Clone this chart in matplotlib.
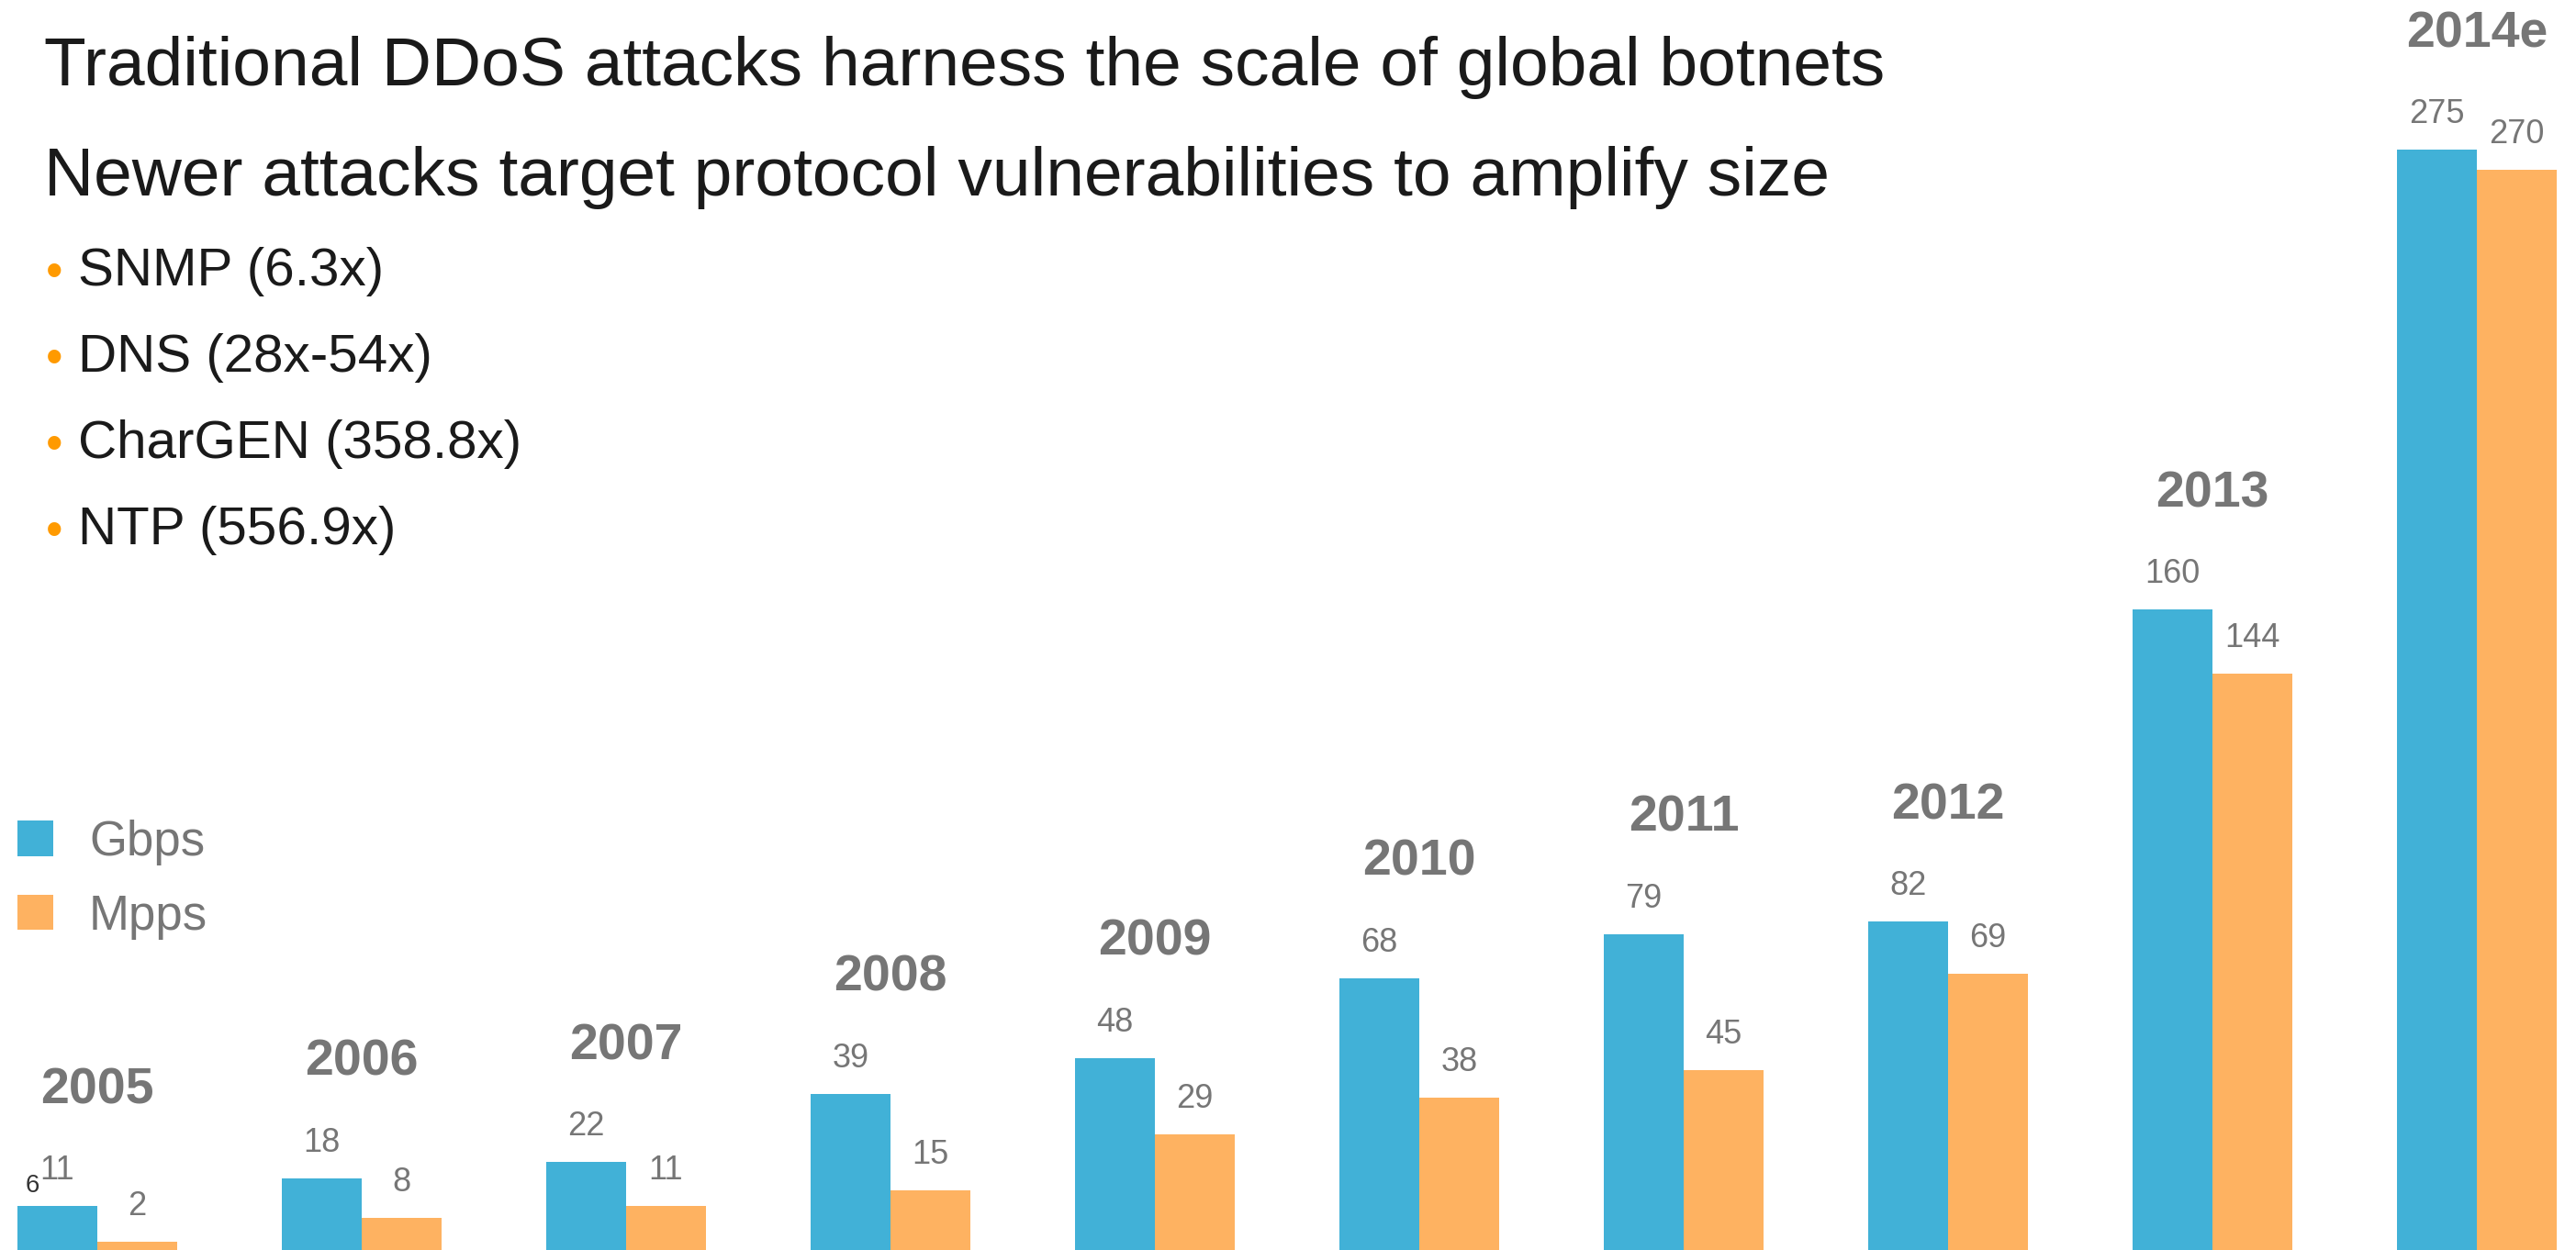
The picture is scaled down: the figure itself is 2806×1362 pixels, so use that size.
import matplotlib.pyplot as plt
import numpy as np

years = ["2005", "2006", "2007", "2008", "2009", "2010", "2011", "2012", "2013", "2014e"]
gbps = [11, 18, 22, 39, 48, 68, 79, 82, 160, 275]
mpps = [2, 8, 11, 15, 29, 38, 45, 69, 144, 270]

headline = "Traditional DDoS attacks harness the scale of global botnets"
subhead = "Newer attacks target protocol vulnerabilities to amplify size"
bullets = ["SNMP (6.3x)", "DNS (28x-54x)", "CharGEN (358.8x)", "NTP (556.9x)"]

BLUE = "#41B1D7"
ORANGE = "#FEB261"
GREY = "#767676"
INK = "#1A1A1A"

plt.rcParams["font.family"] = ["Liberation Sans", "DejaVu Sans"]

W, H = 2806, 1362
fig = plt.figure(figsize=(W / 100, H / 100), dpi=100)
ax = fig.add_axes([0, 0, 1, 1])

# one group per year, bars touch each other inside a group
x = np.arange(len(years))
w = 0.302
b1 = ax.bar(x - w / 2, gbps, w, color=BLUE, label="Gbps")
b2 = ax.bar(x + w / 2, mpps, w, color=ORANGE, label="Mpps")

ax.set_xlim(-0.368, 9.375)
ax.set_ylim(0, H / 4.36)
ax.axis("off")

for xi, g, m, yr in zip(x, gbps, mpps, years):
    ax.annotate(str(g), (xi - w / 2, g), xytext=(0, 29), textcoords="offset pixels",
                ha="center", va="baseline", fontsize=26, color=GREY)
    ax.annotate(str(m), (xi + w / 2, m), xytext=(0, 29), textcoords="offset pixels",
                ha="center", va="baseline", fontsize=26, color=GREY)
    ax.annotate(yr, (xi, g), xytext=(0, 112), textcoords="offset pixels",
                ha="center", va="baseline", fontsize=40, fontweight="bold", color=GREY)

# small stray label next to the first bar
ax.annotate("6", (x[0] - w / 2, gbps[0]), xytext=(-27, 15), textcoords="offset pixels",
            ha="center", va="baseline", fontsize=20, color="#333333")

# headline text block
fig.text(48 / W, 1 - 93 / H, headline, fontsize=54, color=INK, va="baseline")
fig.text(48 / W, 1 - 213 / H, subhead, fontsize=54, color=INK, va="baseline")
for i, line in enumerate(bullets):
    yb = 311 + i * 94
    fig.text(59 / W, 1 - (yb - 12) / H, "\u2022", fontsize=38, color="#FF9A00",
             ha="center", va="center")
    fig.text(85 / W, 1 - yb / H, line, fontsize=42, color=INK, va="baseline")

leg = ax.legend(handles=[b1, b2], loc="upper left", bbox_to_anchor=(19 / W, 1 - 893 / H),
                frameon=False, fontsize=38, labelcolor=GREY, handlelength=0.74,
                handleheight=0.74, handletextpad=0.74, labelspacing=0.58,
                borderpad=0, borderaxespad=0)

fig.savefig("out.png", dpi=100)
